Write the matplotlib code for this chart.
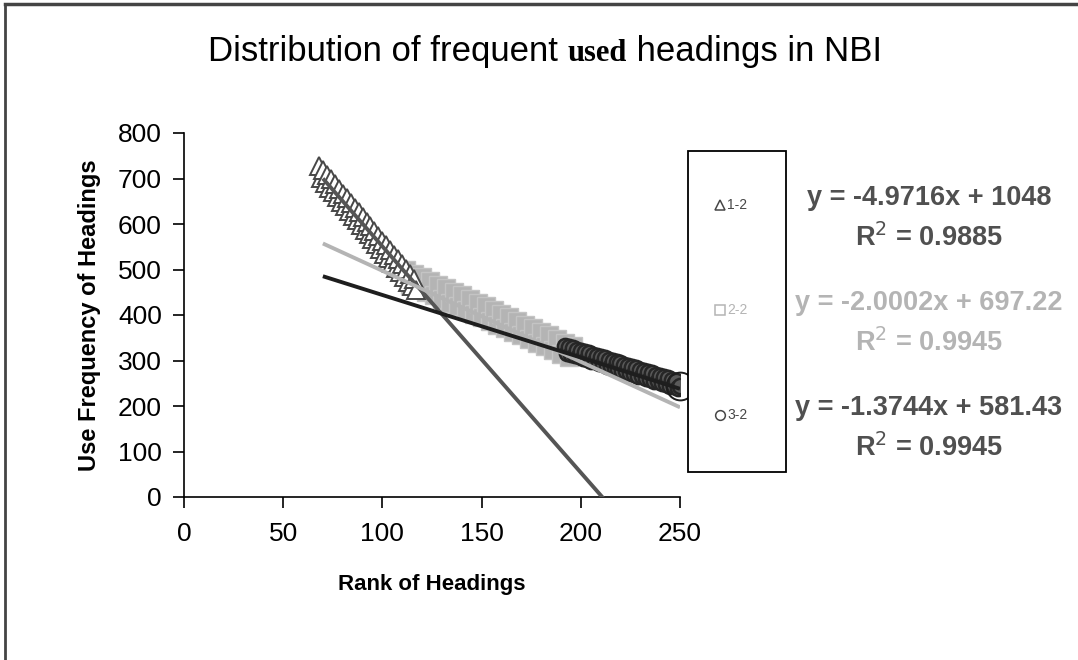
import matplotlib
matplotlib.use("Agg")
import matplotlib.pyplot as plt
from matplotlib.lines import Line2D
from matplotlib.patches import Rectangle
import numpy as np

# ranks / frequencies
rank_12 = list(range(68, 118))
freq_12 = [728, 702, 718, 691, 708, 680, 698, 670, 688, 659, 677, 649, 667,
           639, 657, 628, 646, 618, 636, 608, 626, 598, 616, 587, 605, 577,
           595, 567, 584, 556, 574, 546, 563, 535, 553, 525, 543, 515, 532,
           504, 522, 494, 512, 484, 501, 473, 491, 463, 480, 454]

rank_22 = list(range(112, 197, 2))
freq_22 = [499, 467, 491, 459, 483, 451, 475, 443, 467, 435, 459, 427, 451,
           419, 443, 411, 435, 403, 427, 395, 419, 387, 411, 379, 403, 371,
           395, 363, 387, 355, 379, 347, 371, 339, 363, 331, 355, 323, 347,
           315, 339, 307, 331]

rank_32 = list(range(192, 251))
freq_32 = [332, 317, 329, 314, 327, 311, 324, 309, 321, 306, 318, 303, 316,
           300, 313, 298, 310, 295, 307, 292, 305, 289, 302, 287, 299, 284,
           296, 281, 294, 278, 291, 276, 288, 273, 285, 270, 283, 267, 280,
           265, 277, 262, 274, 259, 272, 256, 269, 254, 266, 251, 263, 248,
           261, 245, 258, 243, 255, 240, 245]

labels = ["1-2", "2-2", "3-2"]
eq_lines = [("y = -4.9716x + 1048", "R$^2$ = 0.9885"),
            ("y = -2.0002x + 697.22", "R$^2$ = 0.9945"),
            ("y = -1.3744x + 581.43", "R$^2$ = 0.9945")]
slopes = [-4.9716, -2.0002, -1.3744]
intercepts = [1048, 697.22, 581.43]

dark = "#474747"
light = "#b4b4b4"
black = "#1e1e1e"

plt.rcParams["font.family"] = ["Liberation Sans", "DejaVu Sans"]

W, H = 1078, 660
fig = plt.figure(figsize=(W / 100, H / 100), dpi=100)
ax = fig.add_axes([184 / W, 1 - 497 / H, (680 - 184) / W, (497 - 133) / H])

ax.plot(rank_12, freq_12, linestyle="none", marker="^", markersize=13,
        markerfacecolor="white", markeredgecolor=dark, markeredgewidth=1.4, zorder=3)
ax.plot(rank_22, freq_22, linestyle="none", marker="s", markersize=13,
        markerfacecolor=light, markeredgecolor="#c4c4c4", markeredgewidth=1.0, zorder=2)
ax.plot(rank_32, freq_32, linestyle="none", marker="o", markersize=11,
        markerfacecolor="#5a5a5a", markeredgecolor="#262626", markeredgewidth=1.8, zorder=3)
# last point drawn as a large open circle, as in the original
ax.plot(rank_32[-1:], freq_32[-1:], linestyle="none", marker="o", markersize=20,
        markerfacecolor="none", markeredgecolor=black, markeredgewidth=1.4, zorder=4,
        clip_on=False)

# linear trendlines
tr_cols = ["#555555", light, black]
for k in range(3):
    xs = np.array([70, 250])
    ax.plot(xs, slopes[k] * xs + intercepts[k], color=tr_cols[k], linewidth=2.8,
            solid_capstyle="butt", zorder=5)

ax.set_xlim(0, 250)
ax.set_ylim(0, 800)
ax.set_xticks([0, 50, 100, 150, 200, 250])
ax.set_yticks(range(0, 801, 100))
ax.spines["top"].set_visible(False)
ax.spines["right"].set_visible(False)
ax.spines["left"].set_linewidth(1.2)
ax.spines["bottom"].set_linewidth(1.2)
ax.tick_params(direction="out", length=8, width=1.2, labelsize=19, pad=8)
ax.tick_params(axis="x", pad=10)

ax.set_xlabel("Rank of Headings", fontsize=16, fontweight="bold", labelpad=20)
ax.set_ylabel("Use Frequency of Headings", fontsize=17, fontweight="bold", labelpad=12)

# legend box drawn by hand
fig.add_artist(Rectangle((688 / W, 1 - 472 / H), 98 / W, 321 / H, transform=fig.transFigure,
                         facecolor="white", edgecolor="black", linewidth=1.3))
leg_y = [205, 310, 415]
leg_mk = [("^", dark), ("s", light), ("o", dark)]
leg_txt_col = [dark, light, dark]
for k in range(3):
    yy = 1 - leg_y[k] / H
    fig.add_artist(Line2D([720 / W], [yy], marker=leg_mk[k][0], markersize=7,
                          markerfacecolor="white", markeredgecolor=leg_mk[k][1],
                          markeredgewidth=1.1, linestyle="none"))
    fig.text(727 / W, yy, labels[k], fontsize=10, color=leg_txt_col[k],
             ha="left", va="center")

# equation labels
eq_y = [198, 303, 408]
eq_cols = ["#505050", light, "#505050"]
for k in range(3):
    fig.text(929 / W, 1 - eq_y[k] / H, eq_lines[k][0], ha="center", va="center",
             fontsize=19.5, fontweight="bold", color=eq_cols[k])
    fig.text(929 / W, 1 - (eq_y[k] + 40) / H, eq_lines[k][1], ha="center", va="center",
             fontsize=19.5, fontweight="bold", color=eq_cols[k])

# title with serif middle word
renderer = fig.canvas.get_renderer()
parts = [("Distribution of frequent ", "Liberation Sans", "normal", 25),
         ("used", "Liberation Serif", "bold", 22),
         (" headings in NBI", "Liberation Sans", "normal", 25)]
texts = []
x = 0
for s, fam, wt, fs in parts:
    t = fig.text(x, 1 - 61 / H, s, fontfamily=fam, fontweight=wt, fontsize=fs,
                 ha="left", va="baseline")
    w = t.get_window_extent(renderer).width / W
    texts.append((t, w))
    x += w
x0 = 545 / W - x / 2
for t, w in texts:
    t.set_x(x0)
    x0 += w

# outer chart border (left and top only visible)
fig.add_artist(Line2D([5 / W, 5 / W], [0, 1 - 4 / H], color="#444444", linewidth=2))
fig.add_artist(Line2D([5 / W, 1], [1 - 4 / H, 1 - 4 / H], color="#444444", linewidth=2.5))

fig.savefig("out.png", dpi=100)
